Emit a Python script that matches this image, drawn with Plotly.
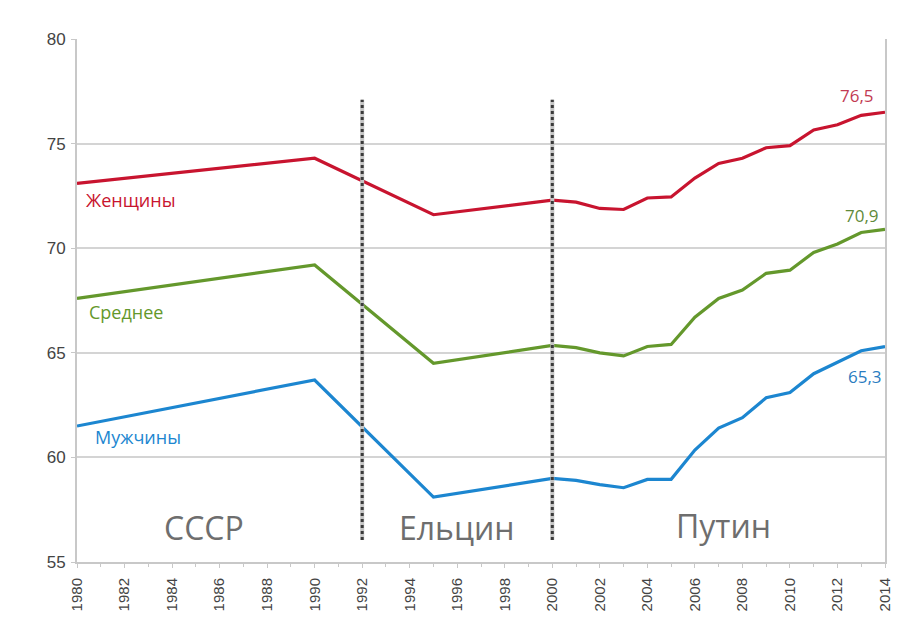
import plotly.graph_objects as go

years = [1980, 1990, 1995, 2000, 2001, 2002, 2003, 2004, 2005, 2006, 2007,
         2008, 2009, 2010, 2011, 2012, 2013, 2014]
women = [73.1, 74.3, 71.6, 72.3, 72.2, 71.9, 71.85, 72.4, 72.45, 73.35, 74.05,
         74.3, 74.8, 74.9, 75.65, 75.9, 76.35, 76.5]
average = [67.6, 69.2, 64.5, 65.35, 65.25, 65.0, 64.85, 65.3, 65.4, 66.7, 67.6,
           68.0, 68.8, 68.95, 69.8, 70.2, 70.75, 70.9]
men = [61.5, 63.7, 58.1, 59.0, 58.9, 58.7, 58.55, 58.95, 58.95, 60.35, 61.4,
       61.9, 62.85, 63.1, 64.0, 64.55, 65.1, 65.3]

series_names = ["Женщины", "Среднее", "Мужчины"]
end_labels = ["76,5", "70,9", "65,3"]
era_names = ["СССР", "Ельцин", "Путин"]
era_bounds = [1992, 2000]
y_ticks = [55, 60, 65, 70, 75, 80]
x_ticks = list(range(1980, 2015, 2))

RED = "#c8142f"
GREEN = "#64982c"
BLUE = "#1c86d0"
colors = [RED, GREEN, BLUE]

fig = go.Figure()
for name, vals, c in zip(series_names, [women, average, men], colors):
    fig.add_trace(go.Scatter(x=years, y=vals, mode="lines", name=name,
                             line=dict(color=c, width=3.2), showlegend=False))

# era boundary lines (hatched look: light underlay + dark dots)
for xb in era_bounds:
    fig.add_shape(type="line", x0=xb, x1=xb, y0=56.05, y1=77.1, xref="x", yref="y",
                  line=dict(color="#c4c4c4", width=4))
    fig.add_shape(type="line", x0=xb, x1=xb, y0=56.05, y1=77.1, xref="x", yref="y",
                  line=dict(color="#3a3a3a", width=3, dash="dot"))

label_font = "Open Sans, Noto Sans, sans-serif"
series_pos = [(1982.27, 72.3), (1982.06, 66.94), (1982.57, 60.96)]
for txt, (x, y), c in zip(series_names, series_pos, colors):
    fig.add_annotation(x=x, y=y, text=txt, showarrow=False, xref="x", yref="y",
                       font=dict(family=label_font, size=18, color=c))

end_pos = [(2012.83, 77.32), (2013.04, 71.58), (2013.16, 63.88)]
end_colors = ["#c23a52", "#5f8a3a", "#2a7cc0"]
for txt, (x, y), c in zip(end_labels, end_pos, end_colors):
    fig.add_annotation(x=x, y=y, text=txt, showarrow=False, xref="x", yref="y",
                       font=dict(family=label_font, size=17, color=c))

era_pos = [(1985.35, 56.65), (1996.0, 56.65), (2007.2, 56.75)]
for txt, (x, y) in zip(era_names, era_pos):
    fig.add_annotation(x=x, y=y, text=txt, showarrow=False, xref="x", yref="y",
                       font=dict(family=label_font, size=32, color="#6e6e6e"))

# page body adds an 8px offset, so margins are compensated
L, R, T, B = 69, 43, 31, 73

fig.update_layout(
    width=920, height=627,
    margin=dict(l=L, r=R, t=T, b=B, autoexpand=False),
    paper_bgcolor="white",
    plot_bgcolor="white",
    xaxis=dict(range=[1980, 2014], tickmode="array", tickvals=x_ticks,
               ticktext=[str(v) for v in x_ticks], tickangle=-90,
               tickfont=dict(family="Liberation Sans Narrow, Liberation Sans, Arial", size=15, color="#444"),
               showgrid=False, showline=True, linecolor="#c8c8c8", linewidth=2,
               ticks="outside", ticklen=4, tickcolor="#c8c8c8", ticklabelstandoff=4,
               minor=dict(dtick=1, ticks="outside", ticklen=3, tickcolor="#c8c8c8"),
               mirror=False, zeroline=False, automargin=False),
    yaxis=dict(range=[55, 80], tickmode="array", tickvals=y_ticks,
               tickfont=dict(family="Liberation Sans Narrow, Liberation Sans, Arial", size=17, color="#444"),
               showgrid=True, gridcolor="#d4d4d4", gridwidth=1.5,
               showline=True, linecolor="#c8c8c8", linewidth=2, mirror=True,
               ticks="outside", ticklen=4, tickcolor="#c8c8c8", zeroline=False,
               ticklabelstandoff=2, automargin=False),
)

fig.write_html("out.html")
